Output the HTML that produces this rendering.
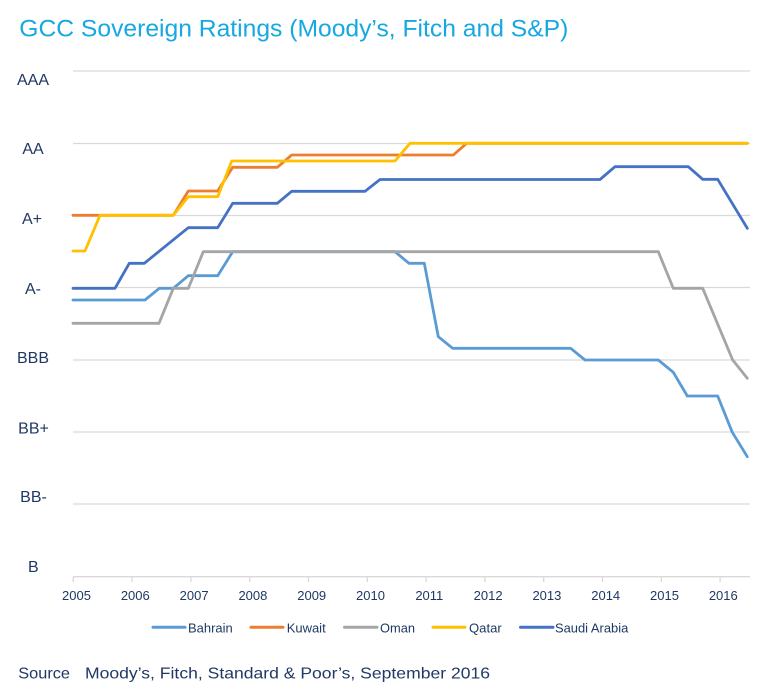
<!DOCTYPE html>
<html>
<head>
<meta charset="utf-8">
<style>
html,body{margin:0;padding:0;background:#fff;}
svg{display:block;}
text{font-family:"Liberation Sans",sans-serif;}
</style>
</head>
<body>
<svg width="768" height="696" viewBox="0 0 768 696" xmlns="http://www.w3.org/2000/svg">
<rect width="768" height="696" fill="#fff"/>
<text x="19.3" y="36.5" font-size="24" fill="#16A8E0" textLength="549" lengthAdjust="spacingAndGlyphs">GCC Sovereign Ratings (Moody’s, Fitch and S&amp;P)</text>

<g stroke="#D9D9D9" stroke-width="1.3">
<line x1="73" y1="71" x2="750" y2="71"/>
<line x1="73" y1="143.5" x2="750" y2="143.5"/>
<line x1="73" y1="215.5" x2="750" y2="215.5"/>
<line x1="73" y1="287.5" x2="750" y2="287.5"/>
<line x1="73" y1="360" x2="750" y2="360"/>
<line x1="73" y1="432" x2="750" y2="432"/>
<line x1="73" y1="504" x2="750" y2="504"/>
<line x1="73" y1="576.7" x2="750" y2="576.7"/>
<line x1="73.3" y1="576.7" x2="73.3" y2="582"/>
<line x1="132.1" y1="576.7" x2="132.1" y2="582"/>
<line x1="190.9" y1="576.7" x2="190.9" y2="582"/>
<line x1="249.7" y1="576.7" x2="249.7" y2="582"/>
<line x1="308.5" y1="576.7" x2="308.5" y2="582"/>
<line x1="367.3" y1="576.7" x2="367.3" y2="582"/>
<line x1="426.1" y1="576.7" x2="426.1" y2="582"/>
<line x1="484.9" y1="576.7" x2="484.9" y2="582"/>
<line x1="543.7" y1="576.7" x2="543.7" y2="582"/>
<line x1="602.5" y1="576.7" x2="602.5" y2="582"/>
<line x1="661.3" y1="576.7" x2="661.3" y2="582"/>
<line x1="720.1" y1="576.7" x2="720.1" y2="582"/>
</g>

<g font-size="16" fill="#1F3864" text-anchor="middle">
<text x="33" y="85">AAA</text>
<text x="33" y="154">AA</text>
<text x="32" y="224">A+</text>
<text x="33" y="294">A-</text>
<text x="33" y="363">BBB</text>
<text x="33.5" y="433.5">BB+</text>
<text x="33.5" y="502">BB-</text>
<text x="33.3" y="572">B</text>
</g>

<g font-size="13" fill="#1F3864" text-anchor="middle">
<text x="76.5" y="600">2005</text>
<text x="135.3" y="600">2006</text>
<text x="194.1" y="600">2007</text>
<text x="252.9" y="600">2008</text>
<text x="311.7" y="600">2009</text>
<text x="370.5" y="600">2010</text>
<text x="429.3" y="600">2011</text>
<text x="488.1" y="600">2012</text>
<text x="546.9" y="600">2013</text>
<text x="605.7" y="600">2014</text>
<text x="664.5" y="600">2015</text>
<text x="723.3" y="600">2016</text>
</g>

<g fill="none" stroke-width="2.8" stroke-linejoin="round" stroke-linecap="round">
<polyline stroke="#5B9BD5" points="73,300 145,300 159.3,288.3 173.3,288.3 188.3,275.7 217.7,275.7 232.7,251.7 395,251.7 409,263.3 424.3,263.3 438.3,336.7 452.7,348.3 570.7,348.3 585,360 658.3,360 673.3,372.3 687.3,396 717.7,396 732.3,432.3 747.3,456.7"/>
<polyline stroke="#ED7D31" points="73,215.3 173.3,215.3 188.3,191 217.7,191 232.7,167.3 277.3,167.3 291.7,155 453.3,155 466.7,143.3 747.3,143.3"/>
<polyline stroke="#A5A5A5" points="73,323.3 159,323.3 173.3,288.3 188.3,288.3 203.3,251.7 658.3,251.7 673.3,288.3 702.7,288.3 732.7,360 747.3,378.3"/>
<polyline stroke="#FFC000" points="73,251 85,251 100,215.3 173.3,215.3 188.3,196.7 217.7,196.7 231.7,161 395,161 410,143.3 747.3,143.3"/>
<polyline stroke="#4472C4" points="73,288.3 115,288.3 129.3,263.3 144.3,263.3 188.3,227.7 217.7,227.7 232.7,203.3 277.3,203.3 291.7,191.3 365,191.3 380,179.5 600,179.5 615,166.7 688.3,166.7 702.7,179.3 717.7,179.3 747.3,228.3"/>
</g>

<g stroke-width="3" stroke-linecap="round">
<line x1="153" y1="627.3" x2="185" y2="627.3" stroke="#5B9BD5"/>
<line x1="251" y1="627.3" x2="283" y2="627.3" stroke="#ED7D31"/>
<line x1="344.5" y1="627.3" x2="377" y2="627.3" stroke="#A5A5A5"/>
<line x1="433" y1="627.3" x2="465" y2="627.3" stroke="#FFC000"/>
<line x1="520.5" y1="627.3" x2="553" y2="627.3" stroke="#4472C4"/>
</g>
<g font-size="13" fill="#1F3864">
<text x="188" y="632.5" textLength="44.7" lengthAdjust="spacingAndGlyphs">Bahrain</text>
<text x="286.7" y="632.5" textLength="39" lengthAdjust="spacingAndGlyphs">Kuwait</text>
<text x="380" y="632.5" textLength="35" lengthAdjust="spacingAndGlyphs">Oman</text>
<text x="469" y="632.5" textLength="32.7" lengthAdjust="spacingAndGlyphs">Qatar</text>
<text x="555" y="632.5" textLength="73.3" lengthAdjust="spacingAndGlyphs">Saudi Arabia</text>
</g>

<g font-size="16" fill="#1F3864">
<text x="18.3" y="678.3" textLength="51.7" lengthAdjust="spacingAndGlyphs">Source</text>
<text x="85" y="678.3" textLength="405" lengthAdjust="spacingAndGlyphs">Moody’s, Fitch, Standard &amp; Poor’s, September 2016</text>
</g>
</svg>
</body>
</html>
